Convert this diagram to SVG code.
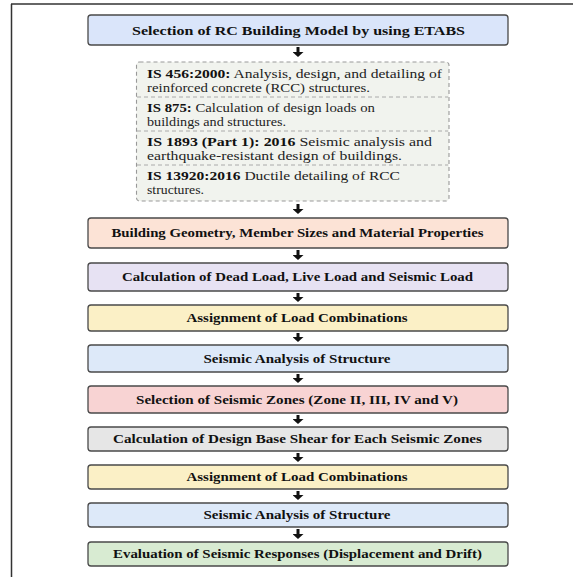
<svg xmlns="http://www.w3.org/2000/svg" width="573" height="577" viewBox="0 0 573 577">
<style>
  .box { stroke: #4a4a4a; stroke-width: 1.3; }
  .t { font-family: "Liberation Serif", "Times New Roman", serif; font-weight: bold; font-size: 12.5px; fill: #111; text-anchor: middle; dominant-baseline: central; }
  .s { font-family: "Liberation Serif", "Times New Roman", serif; font-size: 12.5px; fill: #222; }
  .b { font-weight: bold; fill: #111; }
  .conn { stroke: #111; stroke-width: 3; fill: none; marker-end: url(#ah); }
  .div { stroke: #aaa; stroke-width: 1; stroke-dasharray: 4 3; }
</style>
<defs>
  <marker id="ah" markerUnits="userSpaceOnUse" markerWidth="5" markerHeight="11" refX="0" refY="5.5" orient="auto" viewBox="0 0 5 11">
    <path d="M0,0 L5,5.5 L0,11 Z" fill="#111"/>
  </marker>
</defs>
<rect width="573" height="577" fill="#fff"/>
<g id="frame">
  <line x1="11.5" y1="4" x2="11.5" y2="577" stroke="#333" stroke-width="1.5"/>
  <line x1="11" y1="4" x2="573" y2="4" stroke="#333" stroke-width="1.5"/>
</g>
<g id="connectors">
  <line class="conn" x1="298" y1="47" x2="298" y2="52"/>
  <line class="conn" x1="298" y1="204" x2="298" y2="209"/>
  <line class="conn" x1="298" y1="250" x2="298" y2="255"/>
  <line class="conn" x1="298" y1="293" x2="298" y2="297"/>
  <line class="conn" x1="298" y1="333" x2="298" y2="337"/>
  <line class="conn" x1="298" y1="374" x2="298" y2="378"/>
  <line class="conn" x1="298" y1="415" x2="298" y2="419"/>
  <line class="conn" x1="298" y1="453" x2="298" y2="457"/>
  <line class="conn" x1="298" y1="491" x2="298" y2="495"/>
  <line class="conn" x1="298" y1="529" x2="298" y2="534"/>
</g>
<g id="n1">
  <rect class="box" x="88" y="15" width="420" height="30" rx="3" fill="#dae5fa"/>
  <text class="t" x="298.5" y="30.5" font-size="13.5" textLength="333" lengthAdjust="spacingAndGlyphs">Selection of RC Building Model by using ETABS</text>
</g>
<g id="n2">
  <rect x="136.5" y="62" width="312.5" height="139" rx="3" fill="#f1f3ee" stroke="#999" stroke-width="1.1" stroke-dasharray="4 3"/>
  <line class="div" x1="137" y1="97" x2="448" y2="97"/>
  <line class="div" x1="137" y1="131" x2="448" y2="131"/>
  <line class="div" x1="137" y1="165" x2="448" y2="165"/>
  <text class="s" x="147" y="78" textLength="295" lengthAdjust="spacingAndGlyphs"><tspan class="b">IS 456:2000:</tspan> Analysis, design, and detailing of</text>
  <text class="s" x="147" y="91.5" textLength="223" lengthAdjust="spacingAndGlyphs">reinforced concrete (RCC) structures.</text>
  <text class="s" x="147" y="112" textLength="228" lengthAdjust="spacingAndGlyphs"><tspan class="b">IS 875:</tspan> Calculation of design loads on</text>
  <text class="s" x="147" y="125.5" textLength="139" lengthAdjust="spacingAndGlyphs">buildings and structures.</text>
  <text class="s" x="147" y="146" textLength="285" lengthAdjust="spacingAndGlyphs"><tspan class="b">IS 1893 (Part 1): 2016</tspan> Seismic analysis and</text>
  <text class="s" x="147" y="159.5" textLength="255" lengthAdjust="spacingAndGlyphs">earthquake-resistant design of buildings.</text>
  <text class="s" x="147" y="180" textLength="253" lengthAdjust="spacingAndGlyphs"><tspan class="b">IS 13920:2016</tspan> Ductile detailing of RCC</text>
  <text class="s" x="147" y="193.5" textLength="57" lengthAdjust="spacingAndGlyphs">structures.</text>
</g>
<g id="n3">
  <rect class="box" x="88" y="218" width="420" height="30" rx="3" fill="#fce3d6"/>
  <text class="t" x="297.5" y="233" textLength="372" lengthAdjust="spacingAndGlyphs">Building Geometry, Member Sizes and Material Properties</text>
</g>
<g id="n4">
  <rect class="box" x="88" y="263" width="420" height="28" rx="3" fill="#e7e2f3"/>
  <text class="t" x="297.5" y="277" textLength="351" lengthAdjust="spacingAndGlyphs">Calculation of Dead Load, Live Load and Seismic Load</text>
</g>
<g id="n5">
  <rect class="box" x="88" y="305" width="420" height="26" rx="3" fill="#fbf0c6"/>
  <text class="t" x="297" y="318" textLength="221" lengthAdjust="spacingAndGlyphs">Assignment of Load Combinations</text>
</g>
<g id="n6">
  <rect class="box" x="88" y="345" width="420" height="27" rx="3" fill="#dde9f9"/>
  <text class="t" x="297" y="358.5" textLength="187" lengthAdjust="spacingAndGlyphs">Seismic Analysis of Structure</text>
</g>
<g id="n7">
  <rect class="box" x="88" y="386" width="420" height="27" rx="3" fill="#f8d3d3"/>
  <text class="t" x="297" y="399.5" textLength="322" lengthAdjust="spacingAndGlyphs">Selection of Seismic Zones (Zone II, III, IV and V)</text>
</g>
<g id="n8">
  <rect class="box" x="88" y="427" width="420" height="24" rx="3" fill="#e6e6e6"/>
  <text class="t" x="297.5" y="439" textLength="369" lengthAdjust="spacingAndGlyphs">Calculation of Design Base Shear for Each Seismic Zones</text>
</g>
<g id="n9">
  <rect class="box" x="88" y="465" width="420" height="24" rx="3" fill="#fbf0c6"/>
  <text class="t" x="297" y="477" textLength="221" lengthAdjust="spacingAndGlyphs">Assignment of Load Combinations</text>
</g>
<g id="n10">
  <rect class="box" x="88" y="503" width="420" height="24" rx="3" fill="#dde9f9"/>
  <text class="t" x="297" y="515" textLength="187" lengthAdjust="spacingAndGlyphs">Seismic Analysis of Structure</text>
</g>
<g id="n11">
  <rect class="box" x="88" y="542" width="420" height="24" rx="3" fill="#d8ebd2"/>
  <text class="t" x="297.5" y="554" textLength="369" lengthAdjust="spacingAndGlyphs">Evaluation of Seismic Responses (Displacement and Drift)</text>
</g>
</svg>
